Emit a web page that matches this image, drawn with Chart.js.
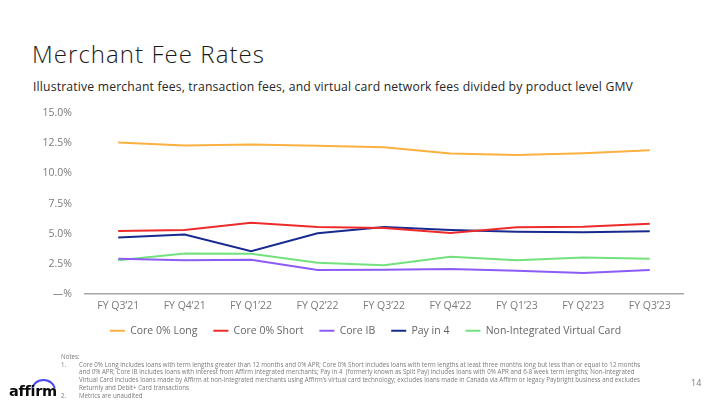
<!DOCTYPE html>
<html>
<head>
<meta charset="utf-8">
<script src="https://cdn.jsdelivr.net/npm/chart.js@4.4.1/dist/chart.umd.min.js"></script>
<style>
  html, body { margin: 0; padding: 0; background: #fff; }
  body { width: 720px; height: 405px; position: relative; overflow: hidden; font-family: "Open Sans", sans-serif; }
  #title { position: absolute; left: 32px; top: 37px; font-size: 24px; font-weight: 300; color: #1a1a1a; white-space: nowrap; }
  #subtitle { position: absolute; left: 33px; top: 78px; font-size: 12.2px; font-weight: 400; color: #262626; white-space: nowrap; }
  #wrap { position: absolute; left: 0; top: 94px; width: 720px; height: 261px; }
  #notes { position: absolute; left: 61px; top: 353px; font-size: 6.2px; line-height: 7.7px; color: #7a7a7a; white-space: nowrap; }
  #notes .row { position: relative; }
  #notes .num { position: absolute; left: 0; }
  #notes .txt { padding-left: 18px; }
  #logo { position: absolute; left: 9px; top: 377px; width: 48px; height: 24px; }
  #logo .word { position: absolute; left: 0; top: 6px; font-family: "DejaVu Sans", sans-serif; font-weight: bold; font-size: 14.5px; letter-spacing: -0.3px; color: #0a0a0a; }
  #logo .arc { position: absolute; left: 22px; top: 2px; width: 25px; height: 22px; border: 2.4px solid #4a4af4; border-radius: 50%; clip-path: inset(0 0 58% 0); box-sizing: border-box; }
  #page { position: absolute; left: 691px; top: 376px; font-size: 9px; color: #7a7a7a; }
</style>
</head>
<body>
<div id="title">Merchant Fee Rates</div>
<div id="subtitle">Illustrative merchant fees, transaction fees, and virtual card network fees divided by product level GMV</div>
<div id="wrap"><canvas id="c"></canvas></div>
<div id="notes">
  <div class="row">Notes:</div>
  <div class="row"><span class="num">1.</span><div class="txt">Core 0% Long includes loans with term lengths greater than 12 months and 0% APR; Core 0% Short includes loans with term lengths at least three months long but less than or equal to 12 months</div></div>
  <div class="row"><div class="txt">and 0% APR; Core IB includes loans with interest from Affirm integrated merchants; Pay in 4&nbsp; (formerly known as Split Pay) includes loans with 0% APR and 6-8 week term lengths; Non-Integrated</div></div>
  <div class="row"><div class="txt">Virtual Card includes loans made by Affirm at non-integrated merchants using Affirm’s virtual card technology; excludes loans made in Canada via Affirm or legacy Paybright business and excludes</div></div>
  <div class="row"><div class="txt">Returnly and Debit+ Card transactions</div></div>
  <div class="row"><span class="num">2.</span><div class="txt">Metrics are unaudited</div></div>
</div>
<div id="logo"><div class="arc"></div><div class="word">affirm</div></div>
<div id="page">14</div>
<script>
const categories = ["FY Q3’21","FY Q4’21","FY Q1’22","FY Q2’22","FY Q3’22","FY Q4’22","FY Q1’23","FY Q2’23","FY Q3’23"];
const seriesNames = ["Core 0% Long","Core 0% Short","Core IB","Pay in 4","Non-Integrated Virtual Card"];
const core0Long  = [12.57,12.32,12.40,12.30,12.19,11.66,11.53,11.69,11.94];
const core0Short = [5.22,5.31,5.91,5.55,5.47,5.06,5.53,5.58,5.83];
const coreIB     = [2.91,2.80,2.83,1.98,2.00,2.06,1.93,1.73,1.98];
const payIn4     = [4.68,4.93,3.55,5.03,5.55,5.31,5.17,5.12,5.20];
const nonIntVC   = [2.80,3.36,3.33,2.59,2.39,3.08,2.80,3.03,2.91];
const yTicks = [0, 2.5, 5, 7.5, 10, 12.5, 15];
const colors = ["#fbb040","#ee2b2b","#8b5cf6","#172a8f","#74e17f"];

function fitWidth(id, target) {
  const el = document.getElementById(id);
  const n = el.textContent.length;
  const w = el.getBoundingClientRect().width;
  el.style.letterSpacing = ((target - w) / n) + "px";
}
fitWidth("title", 233);
fitWidth("subtitle", 600);

const seriesData = [core0Long, core0Short, coreIB, payIn4, nonIntVC];
const datasets = seriesData.map((d, i) => ({
  label: seriesNames[i],
  data: d,
  borderColor: colors[i],
  backgroundColor: colors[i],
  borderWidth: 2,
  pointRadius: 0,
  pointHoverRadius: 0,
  tension: 0,
  fill: false
}));

const legendShift = {
  id: "legendShift",
  afterLayout(chart) {
    const lg = chart.legend;
    if (lg) { lg.top -= 9; lg.bottom -= 9; }
  }
};

const tickFont = { family: "Open Sans", size: 10.5 };
new Chart(document.getElementById("c"), {
  type: "line",
  data: { labels: categories, datasets },
  plugins: [legendShift],
  options: {
    responsive: true,
    maintainAspectRatio: false,
    animation: false,
    layout: { padding: { left: 11, right: 0, top: 0, bottom: 0 } },
    plugins: {
      title: { display: false },
      tooltip: { enabled: false },
      legend: {
        position: "bottom",
        labels: {
          usePointStyle: true,
          pointStyle: "line",
          pointStyleWidth: 15,
          padding: 16,
          color: "#666",
          font: { family: "Open Sans", size: 10.5 }
        }
      }
    },
    scales: {
      x: {
        offset: true,
        grid: { display: false, drawTicks: false },
        border: { display: true, color: "#a6a6a6", width: 1.5 },
        ticks: { color: "#7a7a7a", font: tickFont, padding: 6, maxRotation: 0 }
      },
      y: {
        min: 0, max: 15,
        afterBuildTicks: (s) => { s.ticks = yTicks.map(v => ({ value: v })); },
        afterFit: (s) => { s.width = 74; },
        grid: { display: false, drawTicks: false },
        border: { display: false },
        ticks: {
          color: "#7a7a7a", font: tickFont, padding: 13,
          callback: (v) => v === 0 ? "—%" : v.toFixed(1) + "%"
        }
      },
      y2: {
        type: "linear",
        position: "right",
        min: 0, max: 15,
        afterFit: (s) => { s.width = 37; },
        grid: { display: false, drawTicks: false },
        border: { display: false },
        ticks: { display: false }
      }
    }
  }
});
</script>
</body>
</html>
